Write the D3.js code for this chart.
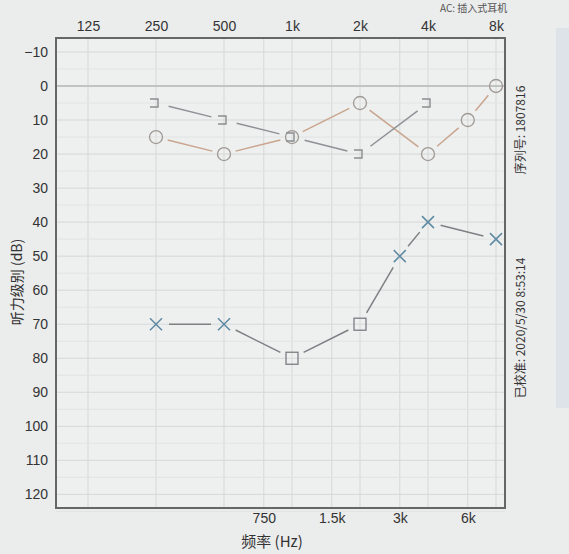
<!DOCTYPE html>
<html><head><meta charset="utf-8">
<script src="https://cdn.jsdelivr.net/npm/d3@7"></script>
<style>body{margin:0;background:#e9eaea;font-family:"Liberation Sans",Arial,sans-serif}</style>
</head><body><svg id="c" width="569" height="554"></svg>
<script>
// audiogram values (Hz, dB HL)
const topTicks = [125, 250, 500, 1000, 2000, 4000, 8000];
const topLabels = ["125", "250", "500", "1k", "2k", "4k", "8k"];
const midTicks = [750, 1500, 3000, 6000];
const midLabels = ["750", "1.5k", "3k", "6k"];
const dbTicks = [-10, 0, 10, 20, 30, 40, 50, 60, 70, 80, 90, 100, 110, 120];

const rightAC = [[250, 15], [500, 20], [1000, 15], [2000, 5], [4000, 20], [6000, 10], [8000, 0]];
const leftBC = [[250, 5], [500, 10], [1000, 15], [2000, 20], [4000, 5]];
const leftAC = [[250, 70, "x"], [500, 70, "x"], [1000, 80, "sq"], [2000, 70, "sq"], [3000, 50, "x"], [4000, 40, "x"], [8000, 45, "x"]];

const svg = d3.select("#c");
const L = 56, R = 505, T = 38, B = 508;
const x = d3.scaleLog().base(2).domain([125 * Math.pow(2, -32 / 68), 8000 * Math.pow(2, 9 / 68)]).range([L, R]);
const y = d3.scaleLinear().domain([-14.1, 124]).range([T, B]);

svg.append("rect").attr("x", 0).attr("y", 0).attr("width", 569).attr("height", 554).attr("fill", "#ebecec");
svg.append("rect").attr("x", 556).attr("y", 28).attr("width", 20).attr("height", 380).attr("fill", "#dde3e8");
svg.append("rect").attr("x", L).attr("y", T).attr("width", R - L).attr("height", B - T).attr("fill", "#eeefef");

// grid
const g = svg.append("g").attr("stroke", "#d6d8d8").attr("stroke-width", 1);
topTicks.concat(midTicks).forEach(f => g.append("line").attr("x1", x(f)).attr("x2", x(f)).attr("y1", T).attr("y2", B));
dbTicks.forEach(d => g.append("line").attr("x1", L).attr("x2", R).attr("y1", y(d)).attr("y2", y(d)));
for (let d = -5; d <= 125; d += 10) g.append("line").attr("x1", L).attr("x2", R).attr("y1", y(d)).attr("y2", y(d)).attr("stroke", "#e2e3e3");
svg.append("line").attr("x1", L).attr("x2", R).attr("y1", y(0)).attr("y2", y(0)).attr("stroke", "#b8b8b8").attr("stroke-width", 1.3);

svg.append("rect").attr("x", L).attr("y", T).attr("width", R - L).attr("height", B - T)
  .attr("fill", "none").attr("stroke", "#666").attr("stroke-width", 2);

// axes
const txt = "#333";
const topAx = svg.append("g").attr("transform", `translate(0,${T})`)
  .call(d3.axisTop(x).tickValues(topTicks).tickFormat((d, i) => topLabels[i]).tickSize(0).tickPadding(7));
const botAx = svg.append("g").attr("transform", `translate(0,${B})`)
  .call(d3.axisBottom(x).tickValues(midTicks).tickFormat((d, i) => midLabels[i]).tickSize(0).tickPadding(5));
const leftAx = svg.append("g").attr("transform", `translate(${L},0)`)
  .call(d3.axisLeft(y).tickValues(dbTicks).tickSize(0).tickPadding(8));
[topAx, botAx, leftAx].forEach(a => {
  a.select(".domain").remove();
  a.selectAll("text").attr("fill", txt).attr("font-size", 14).attr("font-family", "Liberation Sans, Arial");
});

svg.append("text").attr("x", 272).attr("y", 547).attr("text-anchor", "middle").attr("font-size", 15).attr("fill", txt)
  .attr("font-family", "Noto Sans CJK SC").text("频率 (Hz)");
svg.append("text").attr("transform", "translate(22,282) rotate(-90)").attr("text-anchor", "middle").attr("font-size", 14)
  .attr("fill", txt).attr("font-family", "Noto Sans CJK SC").text("听力级别 (dB)");
svg.append("text").attr("transform", "translate(525,130) rotate(-90)").attr("text-anchor", "middle").attr("font-size", 12)
  .attr("fill", txt).attr("font-family", "Noto Sans CJK SC").text("序列号: 1807816");
svg.append("text").attr("transform", "translate(525,328) rotate(-90)").attr("text-anchor", "middle").attr("font-size", 12)
  .attr("fill", txt).attr("font-family", "Noto Sans CJK SC").text("已校准: 2020/5/30 8:53:14");
svg.append("text").attr("x", 440).attr("y", 12).attr("font-size", 10).attr("fill", "#555")
  .attr("font-family", "Noto Sans CJK SC").text("AC: 插入式耳机");

// gapped connecting segments
function connect(data, color, gap) {
  for (let i = 0; i < data.length - 1; i++) {
    const x1 = x(data[i][0]), y1 = y(data[i][1]), x2 = x(data[i + 1][0]), y2 = y(data[i + 1][1]);
    const len = Math.hypot(x2 - x1, y2 - y1), ux = (x2 - x1) / len, uy = (y2 - y1) / len;
    svg.append("line").attr("x1", x1 + ux * gap).attr("y1", y1 + uy * gap).attr("x2", x2 - ux * gap).attr("y2", y2 - uy * gap)
      .attr("stroke", color).attr("stroke-width", 1.5);
  }
}
connect(rightAC, "#c9a58e", 12);
connect(leftBC, "#8e9296", 13);
connect(leftAC, "#7d8184", 13);

rightAC.forEach(d => svg.append("circle").attr("cx", x(d[0])).attr("cy", y(d[1])).attr("r", 6.5)
  .attr("fill", "none").attr("stroke", "#a09a96").attr("stroke-width", 1.3));
leftBC.forEach(d => svg.append("path").attr("transform", `translate(${x(d[0]) - 2},${y(d[1])})`)
  .attr("d", "M-4,-4H4V4H-4").attr("fill", "none").attr("stroke", "#8a8d90").attr("stroke-width", 1.4));
leftAC.forEach(d => {
  const px = x(d[0]), py = y(d[1]);
  if (d[2] === "x") svg.append("path").attr("d", `M${px - 6},${py - 6}L${px + 6},${py + 6}M${px + 6},${py - 6}L${px - 6},${py + 6}`)
    .attr("stroke", "#5f8aa3").attr("stroke-width", 1.5);
  else svg.append("rect").attr("x", px - 6).attr("y", py - 6).attr("width", 12).attr("height", 12)
    .attr("fill", "none").attr("stroke", "#7a7e82").attr("stroke-width", 1.3);
});
</script></body></html>
